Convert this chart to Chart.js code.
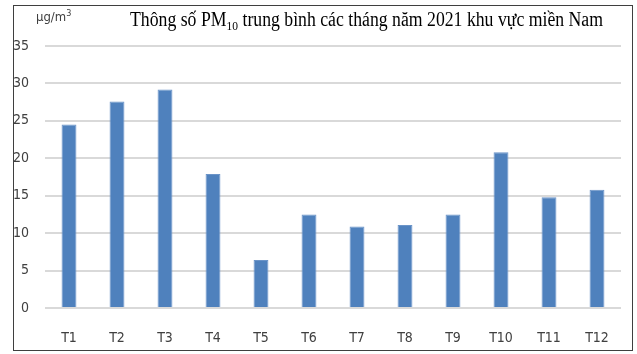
<!DOCTYPE html>
<html>
<head>
<meta charset="utf-8">
<script src="https://cdn.jsdelivr.net/npm/chart.js@4/dist/chart.umd.min.js"></script>
<style>
  html, body { margin: 0; padding: 0; background: #fff; }
  #page { position: relative; width: 637px; height: 354px; }
  #wrap { position: absolute; left: 0; top: 0; width: 621px; height: 354px; }
  #frame {
    position: absolute; left: 13px; top: 5px; width: 620px; height: 346px;
    border: 1.5px solid #3f3f3f; pointer-events: none; box-sizing: border-box;
  }
  #unit {
    position: absolute; left: 36px; top: 9px;
    font: 13px 'DejaVu Sans Condensed', 'DejaVu Sans', sans-serif; color: #404040;
  }
  #unit sup { font-size: 9px; vertical-align: 5px; line-height: 0; }
</style>
</head>
<body>
<div id="page">
  <div id="wrap"><canvas id="pm10Chart"></canvas></div>
  <div id="unit">µg/m<sup>3</sup></div>
  <div id="frame"></div>
</div>
<script>
// monthly PM10 averages, southern region 2021
const months = ["T1", "T2", "T3", "T4", "T5", "T6", "T7", "T8", "T9", "T10", "T11", "T12"];
const pm10Values = [24.5, 27.6, 29.2, 17.9, 6.4, 12.5, 10.9, 11.1, 12.5, 20.8, 14.8, 15.8];
const yTicks = [0, 5, 10, 15, 20, 25, 30, 35];

const labelFont = "'DejaVu Sans Condensed', 'DejaVu Sans', sans-serif";
const titleFont = "'Liberation Serif', 'Times New Roman', serif";

// title with PM10 subscript, squeezed into its slot
const titlePlugin = {
  id: "titlePlugin",
  afterDraw(chart) {
    const ctx = chart.ctx;
    const part1 = "Thông số PM";
    const sub = "10";
    const part2 = " trung bình các tháng năm 2021 khu vực miền Nam";
    const left = 130, right = 603, base = 26;

    ctx.save();
    ctx.font = "20px " + titleFont;
    const w1 = ctx.measureText(part1).width;
    const w3 = ctx.measureText(part2).width;
    ctx.font = "13px " + titleFont;
    const w2 = ctx.measureText(sub).width;
    const sx = (right - left) / (w1 + w2 + w3);

    ctx.translate(left, base);
    ctx.scale(sx, 1);
    ctx.fillStyle = "#000";
    ctx.textBaseline = "alphabetic";
    ctx.font = "20px " + titleFont;
    ctx.fillText(part1, 0, 0);
    ctx.font = "13px " + titleFont;
    ctx.fillText(sub, w1, 4);
    ctx.font = "20px " + titleFont;
    ctx.fillText(part2, w1 + w2, 0);
    ctx.restore();
  }
};

new Chart(document.getElementById("pm10Chart"), {
  type: "bar",
  data: {
    labels: months,
    datasets: [{
      data: pm10Values,
      backgroundColor: "#4f81bd",
      borderColor: "#6b94c8",
      borderWidth: 1,
      barPercentage: 0.31,
      categoryPercentage: 1
    }]
  },
  options: {
    responsive: true,
    maintainAspectRatio: false,
    animation: false,
    layout: { padding: { top: 46, right: 0, left: 0, bottom: 0 } },
    plugins: {
      legend: { display: false },
      tooltip: { enabled: false }
    },
    scales: {
      x: {
        grid: { display: false, drawTicks: false },
        border: { display: false },
        ticks: {
          color: "#404040",
          font: { family: labelFont, size: 14 },
          padding: 22,
          maxRotation: 0
        },
        afterFit(scale) {
          scale.height = 46;
          // keep the category band flush with the plot edges
          scale.paddingLeft = 0;
          scale.paddingRight = 0;
        }
      },
      y: {
        min: 0,
        max: 35,
        afterBuildTicks(scale) { scale.ticks = yTicks.map(v => ({ value: v })); },
        grid: { color: "#d9d9d9", lineWidth: 2, drawTicks: false },
        border: { display: false },
        ticks: {
          color: "#404040",
          font: { family: labelFont, size: 14 },
          padding: 16
        },
        afterFit(scale) { scale.width = 45; }
      }
    }
  },
  plugins: [titlePlugin]
});
</script>
</body>
</html>
